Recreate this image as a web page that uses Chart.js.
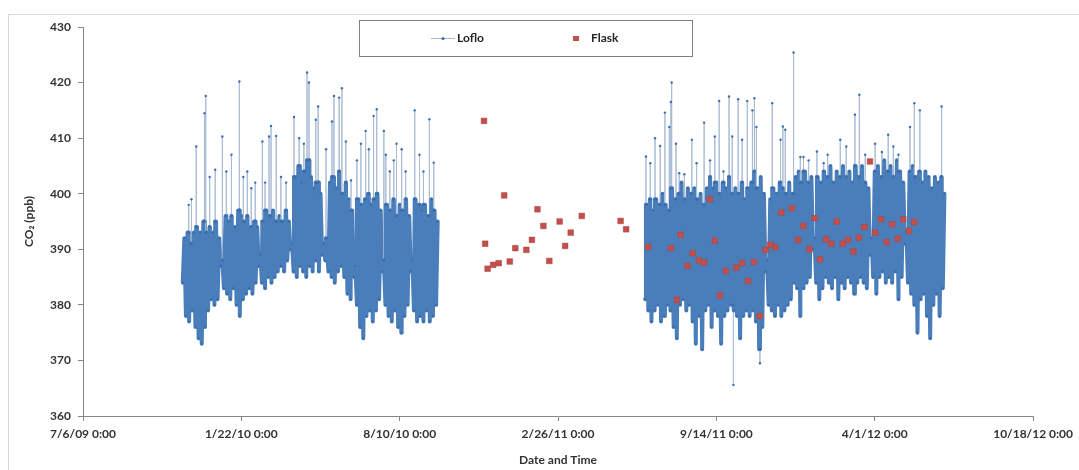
<!DOCTYPE html>
<html><head><meta charset="utf-8">
<script src="https://cdn.jsdelivr.net/npm/chart.js@4.4.1/dist/chart.umd.min.js"></script>
<style>html,body{margin:0;padding:0;background:#fff;overflow:hidden}</style>
</head><body>
<canvas id="c" width="1079" height="470"></canvas>
<script>
// ---- x axis (Excel serial dates) ----
const xMin = 40000, xMax = 41200, xStep = 200;
const xTickLabels = ['7/6/09 0:00','1/22/10 0:00','8/10/10 0:00','2/26/11 0:00','9/14/11 0:00','4/1/12 0:00','10/18/12 0:00'];
const yMin = 360, yMax = 430, yStep = 10;

// ---- Loflo: band envelope read every 4 days (low, high) ----
const lofloStep = 4;
const lofloStart1 = 40126;
const lofloLow1 = [384,378,377,379,376,374,373,376,379,381,380,381,387,383,382,381,383,380,378,381,382,383,382,384,387,384,383,385,384,385,386,387,386,388,390,386,385,387,386,385,387,386,388,386,389,388,386,385,384,386,387,385,382,381,385,380,376,374,378,379,377,379,381,386,380,378,377,379,376,375,378,380,386,379,377,378,377,379,377,378,380];
const lofloHigh1 = [392,393,391,393,394,393,395,393,394,393,395,392,388,396,395,396,394,397,396,395,396,394,395,394,389,395,397,396,397,395,396,395,397,395,391,403,405,402,404,406,403,401,402,400,391,392,402,403,401,404,400,402,399,397,387,399,398,399,400,398,399,400,397,388,398,397,399,396,398,397,399,396,388,399,398,397,398,396,399,397,395];
const lofloStart2 = 40710;
const lofloLow2 = [381,379,377,379,380,377,378,380,379,376,374,380,381,379,380,377,373,378,372,379,380,376,379,378,373,378,379,380,379,378,374,378,379,378,379,377,372,376,386,380,379,378,380,378,379,380,381,384,383,378,383,384,385,390,384,381,383,385,384,383,385,381,384,383,385,384,382,384,385,384,383,389,385,382,385,386,384,385,384,386,381,385,391,384,382,380,375,381,382,378,374,380,382,378,383];
const lofloHigh2 = [398,399,397,399,398,400,398,397,401,399,400,402,399,401,400,401,399,400,398,401,403,401,402,400,402,401,403,400,401,400,402,399,401,402,404,401,403,400,388,399,401,400,402,401,400,402,400,403,404,402,404,402,403,392,403,402,404,403,405,402,404,403,405,403,404,402,405,403,405,402,401,392,404,405,403,406,404,405,403,406,404,402,393,404,405,403,404,402,404,403,401,403,402,403,400];
// isolated excursions (spikes) of the Loflo record
const lofloSpikeDates = [40133.5,40137,40143,40153.5,40155,40160,40167,40176,40181,40187.5,40197.5,40202.5,40207.5,40212.5,40217.5,40226.5,40230,40235,40237.5,40244,40250,40256.5,40266.5,40273,40279,40283,40285.5,40294,40297,40307,40314.5,40317,40323.5,40327,40332,40338.5,40346,40351,40357,40361,40367,40371,40380,40382.5,40387.5,40392.5,40396,40402.5,40407.5,40419,40425,40430,40437.5,40443,
 40711,40716.5,40722.5,40729,40735,40740.5,40742.5,40743.5,40749,40753,40759.5,40769,40775,40784.5,40792,40798,40803.5,40809,40816,40820,40821.5,40827.5,40832.5,40839,40845.5,40848,40850.5,40855,40870.5,40881,40884,40887,40897.5,40906,40910,40916.5,40927,40935.5,40940.5,40956.5,40964,40975,40980.5,40988,41000.5,41009,41017,41023.5,41030,41044.5,41050,41057,41084.5];
const lofloSpikeValues = [398,399,408.5,414.5,417.6,403,404.3,410.3,404,407,420.2,403,404,401,402,409.4,402,410.3,412.2,410.4,403,402,413.8,410,409,421.8,420,413.3,415.7,408,413,417.6,417.3,419,409.4,402.4,406,409,411.3,408,414,415.2,411.3,407,404,406,409,408,404,415,407,404,413.4,405.6,
 406.7,405.5,410,408.6,414.6,412,416.5,420,409,403.7,403.5,409.7,405.5,412.8,406,410.3,416.7,404,417.5,410.3,365.6,417,409.7,416.7,415,417.2,412,369.5,416.3,409.7,412.1,411.5,425.4,406.6,406.6,406,407.6,405.5,407,409.7,408.5,414.2,417.8,407,409,407.5,410.6,408.5,407,412,416.3,415,415.7];
const lofloBreak = 40575; // no record between the two campaigns

// ---- Flask samples ----
const flaskDates = [40506.5,40508,40511,40518,40525,40532,40539,40546,40560,40567,40574,40581.5,40589,40602,40609,40616,40630,40679,40686,40714,40742.5,40750,40755,40763.5,40770,40778,40784.5,40791.5,40798,40804.5,40812,40825.5,40832.5,40840,40847.5,40854.5,40862,40868,40874.5,40882,40895.5,40903,40910,40917.5,40924,40931,40938.5,40945,40952,40959.5,40966,40973,40980,40987,40994,41000.5,41008,41015,41022,41029,41036,41043,41050];
const flaskValues = [413.1,391,386.5,387.2,387.5,399.7,387.8,390.2,389.9,391.7,397.2,394.2,387.9,395,390.6,393,396,395.1,393.6,390.4,390.2,380.9,392.6,387,389.3,388,387.6,399,391.5,381.7,386.1,386.7,387.5,384.3,387.7,378,389.9,390.8,390.4,396.6,397.4,391.7,394.2,390,395.6,388.2,391.8,391,395,391,391.7,389.6,392.1,394,405.8,393,395.4,391.3,394.5,391.9,395.4,393.3,394.9];

// ---- build library data ----
const lofloPts = [];
function addBand(start, lo, hi){
  const end = start + lo.length*lofloStep;
  lo.forEach((v,i)=>{
    const t = start + i*lofloStep;
    lofloPts.push({x:t,y:v});
    lofloPts.push({x:t+lofloStep/2,y:hi[i]});
    // spikes rise from (or drop to) the band edge of the same interval
    lofloSpikeDates.forEach((d,k)=>{
      if (d >= t && d < t+lofloStep) {
        const val = lofloSpikeValues[k];
        const base = val > hi[i] ? hi[i] : v;
        lofloPts.push({x:d,y:base},{x:d,y:val,s:1},{x:d,y:base});
      }
    });
  });
}
addBand(lofloStart1, lofloLow1, lofloHigh1);
addBand(lofloStart2, lofloLow2, lofloHigh2);
lofloPts.push({x:lofloBreak,y:null});
lofloPts.sort((a,b)=>a.x-b.x);
const flaskPts = flaskDates.map((d,i)=>({x:d,y:flaskValues[i]}));

const FONT = 'Lato, "DejaVu Sans", sans-serif';
const TXT = '#333333';
const AXIS = '#868686';
const BAND = '#4A7EBB', SPIKE = '#A9BCD5', MARK = '#3C6DAB', RED = '#C0504D';
const isSpike = ctx => lofloPts[ctx.p0DataIndex].s || lofloPts[ctx.p1DataIndex].s;

const framePlugin = {
  id:'frame',
  beforeDraw(chart){
    const c = chart.ctx; c.save();
    c.fillStyle='#fff'; c.fillRect(0,0,chart.width,chart.height);
    c.strokeStyle='#D9D9D9'; c.lineWidth=1; c.strokeRect(8.5,14.5,1090,480);
    c.restore();
  }
};
const legendPlugin = {
  id:'boxLegend',
  afterDraw(chart){
    const c = chart.ctx, ds = chart.data.datasets; c.save();
    c.fillStyle='#fff'; c.fillRect(359.5,20.5,333,36);
    c.strokeStyle='#808080'; c.lineWidth=1; c.strokeRect(359.5,20.5,333,36);
    const y = 38.5;
    c.strokeStyle=SPIKE; c.beginPath(); c.moveTo(431,y); c.lineTo(455,y); c.stroke();
    c.fillStyle=MARK; c.beginPath(); c.arc(443,y,1.6,0,Math.PI*2); c.fill();
    c.font='bold 12px '+FONT; c.fillStyle='#262626'; c.textBaseline='middle'; c.textAlign='left';
    c.fillText(ds[0].label,457,y);
    c.fillStyle=RED; c.fillRect(573,36,6,5);
    c.fillStyle='#262626'; c.fillText(ds[1].label,591,y);
    c.restore();
  }
};

new Chart(document.getElementById('c'), {
  type:'scatter',
  data:{datasets:[
    {label:'Loflo', data:lofloPts, showLine:true, spanGaps:false, order:1,
     borderColor:BAND, borderWidth:4, borderJoinStyle:'round', borderCapStyle:'round',
     segment:{
       borderColor: ctx => isSpike(ctx) ? SPIKE : BAND,
       borderWidth: ctx => isSpike(ctx) ? 1 : 4
     },
     pointRadius:1.2, pointHoverRadius:0, pointBackgroundColor:MARK, pointBorderWidth:0},
    {label:'Flask', data:flaskPts, showLine:false, order:0,
     pointStyle:'rect', pointRadius:4, pointHoverRadius:0, pointBackgroundColor:RED, pointBorderColor:'#B0403D', pointBorderWidth:0.5}
  ]},
  options:{
    responsive:false, animation:false, devicePixelRatio:1,
    layout:{padding:{left:0,right:42,top:27,bottom:0}},
    plugins:{legend:{display:false}, tooltip:{enabled:false}},
    scales:{
      x:{type:'linear', min:xMin, max:xMax,
         ticks:{stepSize:xStep, autoSkip:false, maxRotation:0, padding:6, color:TXT,
                font:{family:FONT,size:12,weight:'bold'},
                callback:v => xTickLabels[Math.round((v-xMin)/xStep)]},
         grid:{drawOnChartArea:false, tickLength:5, color:AXIS},
         border:{color:AXIS},
         title:{display:true, text:'Date and Time', color:TXT, padding:{top:0,bottom:3},
                font:{family:FONT,size:12,weight:'bold'}},
         afterFit(s){ s.height = 54; }},
      y:{type:'linear', min:yMin, max:yMax,
         ticks:{stepSize:yStep, padding:7, color:TXT, font:{family:FONT,size:12,weight:'bold'}},
         grid:{drawOnChartArea:false, tickLength:5, color:AXIS},
         border:{color:AXIS},
         title:{display:true, text:'CO\u2082 (ppb)', color:TXT, padding:{top:22,bottom:0},
                font:{family:FONT,size:12,weight:'bold'}},
         afterFit(s){ s.width = 83; }}
    }
  },
  plugins:[framePlugin, legendPlugin]
});
</script>
</body></html>
